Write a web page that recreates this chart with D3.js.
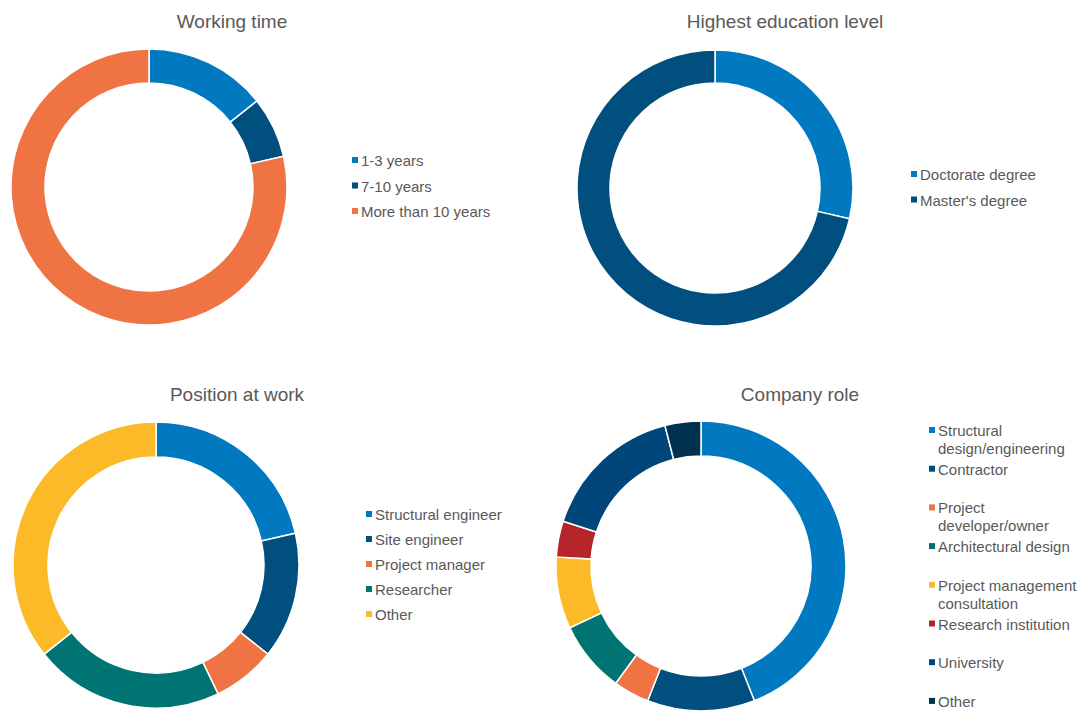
<!DOCTYPE html>
<html>
<head>
<meta charset="utf-8">
<script src="https://cdn.jsdelivr.net/npm/d3@7"></script>
<style>
  html, body { margin: 0; padding: 0; background: #ffffff; }
  svg { display: block; font-family: "Liberation Sans", Arial, sans-serif; }
</style>
</head>
<body>
<svg id="chart" width="1082" height="712"></svg>
<script>
// Survey respondent counts per category
const workingTimeLabels = ["1-3 years", "7-10 years", "More than 10 years"];
const workingTimeValues = [2, 1, 11];

const educationLabels = ["Doctorate degree", "Master's degree"];
const educationValues = [4, 10];

const positionLabels = ["Structural engineer", "Site engineer", "Project manager", "Researcher", "Other"];
const positionValues = [3, 2, 1, 3, 5];

const companyLabels = [
  ["Structural", "design/engineering"],
  ["Contractor"],
  ["Project", "developer/owner"],
  ["Architectural design"],
  ["Project management", "consultation"],
  ["Research institution"],
  ["University"],
  ["Other"]
];
const companyValues = [11, 3, 1, 2, 2, 1, 4, 1];

// Palette
const C = {
  blue: "#0079C1",
  navy: "#004F7E",
  orange: "#F07443",
  teal: "#007472",
  yellow: "#FDBA28",
  red: "#B6252A",
  univ: "#00467A",
  dark: "#00324F"
};

const svg = d3.select("#chart");

function donut(opts) {
  const g = svg.append("g");
  const data = opts.values.map((v, i) => ({ value: v, label: opts.labels[i], color: opts.colors[i] }));
  const pie = d3.pie().value(d => d.value).sort(null);
  const arc = d3.arc().innerRadius(opts.inner).outerRadius(opts.outer);

  // Ring slices
  g.append("g")
    .attr("transform", `translate(${opts.cx},${opts.cy})`)
    .selectAll("path")
    .data(pie(data))
    .join("path")
    .attr("d", arc)
    .attr("fill", d => d.data.color)
    .attr("stroke", "#ffffff")
    .attr("stroke-width", 1.5);

  // Title
  g.append("text")
    .attr("x", opts.titleX)
    .attr("y", opts.titleY)
    .attr("text-anchor", "middle")
    .attr("font-size", 19)
    .attr("fill", "#595959")
    .text(opts.title);

  // Legend
  const leg = g.append("g").attr("transform", `translate(${opts.legX},${opts.legY})`);
  const items = leg.selectAll("g")
    .data(data)
    .join("g")
    .attr("transform", (d, i) => `translate(0,${i * opts.legStep})`);
  items.append("rect")
    .attr("x", 0).attr("y", -9)
    .attr("width", 6).attr("height", 6)
    .attr("fill", d => d.color);
  items.append("text")
    .attr("x", 9).attr("y", 0)
    .attr("font-size", 15)
    .attr("fill", "#595959")
    .each(function (d) {
      const lines = Array.isArray(d.label) ? d.label : [d.label];
      d3.select(this).selectAll("tspan")
        .data(lines)
        .join("tspan")
        .attr("x", 9)
        .attr("dy", (l, j) => (j === 0 ? 0 : 18))
        .text(l => l);
    });
}

donut({
  title: "Working time", titleX: 232, titleY: 28,
  labels: workingTimeLabels, values: workingTimeValues,
  colors: [C.blue, C.navy, C.orange],
  cx: 149, cy: 187, outer: 138, inner: 104,
  legX: 352, legY: 166, legStep: 25.5
});

donut({
  title: "Highest education level", titleX: 785, titleY: 28,
  labels: educationLabels, values: educationValues,
  colors: [C.blue, C.navy],
  cx: 715, cy: 188, outer: 138, inner: 105,
  legX: 911, legY: 180, legStep: 25.5
});

donut({
  title: "Position at work", titleX: 237, titleY: 401,
  labels: positionLabels, values: positionValues,
  colors: [C.blue, C.navy, C.orange, C.teal, C.yellow],
  cx: 156, cy: 565, outer: 143, inner: 108,
  legX: 366, legY: 520, legStep: 25
});

donut({
  title: "Company role", titleX: 800, titleY: 401,
  labels: companyLabels, values: companyValues,
  colors: [C.blue, C.navy, C.orange, C.teal, C.yellow, C.red, C.univ, C.dark],
  cx: 701, cy: 566, outer: 145, inner: 110,
  legX: 929, legY: 436, legStep: 38.7
});
</script>
</body>
</html>
